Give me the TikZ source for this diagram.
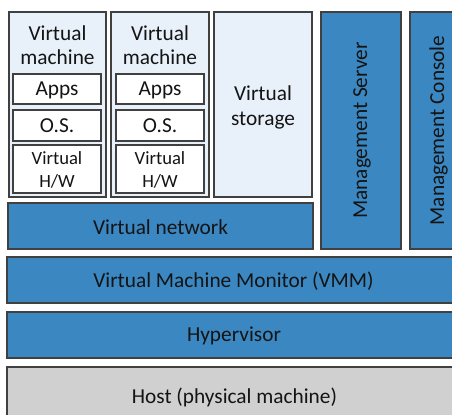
\documentclass[tikz,border=0pt]{standalone}
\usepackage{fontspec}
\setmainfont{Carlito}
\definecolor{vblue}{HTML}{3A87C2}
\definecolor{vlight}{HTML}{E8F1FA}
\definecolor{vgray}{HTML}{D0D0D0}
\definecolor{vline}{HTML}{404040}
\definecolor{vtext}{HTML}{141414}
\begin{document}
\begin{tikzpicture}[x=1bp,y=-1bp,
  box/.style={draw=vline,line width=1.1bp},
  bluebox/.style={box,fill=vblue},
  lightbox/.style={box,fill=vlight},
  whitebox/.style={box,fill=white},
  graybox/.style={box,fill=vgray},
  lbl/.style={text=vtext,font=\fontsize{21.4}{24.5}\selectfont,align=center,inner sep=0pt},
  smalllbl/.style={text=vtext,font=\fontsize{18.7}{22.5}\selectfont,align=center,inner sep=0pt}]
\useasboundingbox (0,0) rectangle (452,414);
\begin{scope}
\clip (0,0) rectangle (452,414);
% virtual machines
\draw[lightbox] (9,12) rectangle (106,197);
\draw[lightbox] (111,12) rectangle (209,197);
\draw[lightbox] (214,12) rectangle (312,197);
\node[lbl] (vm1t) at (57.5,45) {Virtual\\machine};
\node[lbl] (vm2t) at (160,45) {Virtual\\machine};
\draw[whitebox] (13,74) rectangle (101,104);
\draw[whitebox] (13,110) rectangle (101,141);
\draw[whitebox] (13,145) rectangle (101,193);
\draw[whitebox] (116,74) rectangle (204,104);
\draw[whitebox] (116,110) rectangle (204,141);
\draw[whitebox] (116,145) rectangle (204,193);
\node[lbl] (a1) at (57,90.5) {Apps};
\node[lbl] (o1) at (57,126) {O.S.};
\node[smalllbl] (h1) at (57,170) {Virtual\\H/W};
\node[lbl] (a2) at (160,90.5) {Apps};
\node[lbl] (o2) at (160,126) {O.S.};
\node[smalllbl] (h2) at (160,170) {Virtual\\H/W};
\node[lbl] (vs) at (263,107.5) {Virtual\\storage};
% network
\draw[bluebox] (8,203) rectangle (313,249);
\node[lbl] (vn) at (160.5,227) {Virtual network};
% management
\draw[bluebox] (321,12) rectangle (401,249);
\node[lbl,rotate=90] (ms) at (362,130.5) {Management Server};
\draw[bluebox] (410,12) rectangle (466,249);
\node[lbl,rotate=90] (mc) at (438.5,130.5) {Management Console};
% layers
\draw[bluebox] (7,257) rectangle (461,303);
\node[lbl] (vmm) at (233.5,281) {Virtual Machine Monitor (VMM)};
\draw[bluebox] (7,312) rectangle (461,358);
\node[lbl] (hyp) at (234,336) {Hypervisor};
\draw[graybox] (7,367) rectangle (461,428);
\node[lbl] (host) at (234.5,397) {Host (physical machine)};
\end{scope}
\end{tikzpicture}
\end{document}
